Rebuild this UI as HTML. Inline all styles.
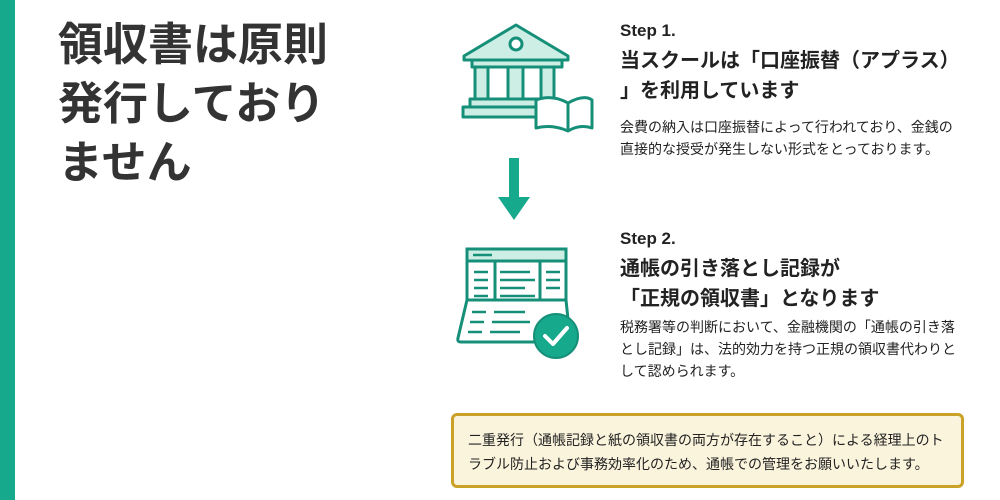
<!DOCTYPE html>
<html><head><meta charset="utf-8"><style>
body{margin:0;width:1000px;height:500px;background:#fff;position:relative;overflow:hidden;font-family:"Liberation Sans","Noto Sans CJK JP",sans-serif;color:#222}
.bar{position:absolute;left:0;top:0;width:15px;height:500px;background:#17a98c}
.t{position:absolute;left:58px;top:15px;font-size:45px;font-weight:bold;line-height:59px;color:#333}
.s{position:absolute;left:620px;font-weight:bold;font-size:20px;line-height:30px}
.s .h{font-size:17px}
.b{position:absolute;left:620px;font-size:14px;line-height:22px}
.box{position:absolute;left:451px;top:413px;width:513px;height:75px;background:#fbf4dd;border:3px solid #c9a227;border-radius:6px;box-sizing:border-box;font-size:14px;line-height:24px;padding:12px 0 0 14px}
</style></head><body>
<div class="bar"></div>
<div class="t">領収書は原則<br>発行しており<br>ません</div>
<svg style="position:absolute;left:440px;top:0" width="180" height="370" viewBox="440 0 180 370">
<g stroke="#168f79" stroke-width="3" fill="#cdeee5" stroke-linejoin="round">
<polygon points="464,56 516,25 568,56 568,60 464,60"/>
<circle cx="516" cy="44" r="6" fill="#fff"/>
<rect x="472" y="60" width="90" height="7"/>
<rect x="475" y="67" width="13" height="32"/><rect x="508" y="67" width="15" height="32"/><rect x="541" y="67" width="13" height="32"/>
<rect x="470" y="99" width="72" height="8"/><rect x="463" y="107" width="80" height="10"/>
<path d="M536 112 L536 100 Q552 94 568 103 Q584 94 592 100 L592 128 Q580 124 568 131 Q552 124 536 128 Z" fill="#fff"/>
<line x1="568" y1="103" x2="568" y2="131"/>
</g>
<rect x="509" y="158" width="10" height="40" fill="#17a98c"/>
<polygon points="498,197 530,197 514,220" fill="#17a98c"/>
<g stroke="#168f79" stroke-width="3" fill="#fff">
<path d="M467 252 Q467 249 470 249 L563 249 Q566 249 566 252 L566 300 L570 338 Q570 342 566 342 L461 342 Q457 342 458 338 L467 300 Z"/>
<rect x="467" y="249" width="99" height="12" fill="#cdeee5"/>
<line x1="495" y1="261" x2="495" y2="300"/><line x1="540" y1="261" x2="540" y2="300"/>
<line x1="467" y1="300" x2="566" y2="300"/>
<g stroke-width="2.5"><line x1="473" y1="255" x2="492" y2="255"/>
<line x1="474" y1="272" x2="488" y2="272"/><line x1="500" y1="272" x2="530" y2="272"/><line x1="546" y1="272" x2="560" y2="272"/>
<line x1="474" y1="280" x2="488" y2="280"/><line x1="500" y1="280" x2="535" y2="280"/><line x1="546" y1="280" x2="560" y2="280"/>
<line x1="474" y1="288" x2="488" y2="288"/><line x1="500" y1="288" x2="525" y2="288"/><line x1="546" y1="288" x2="560" y2="288"/>
<line x1="474" y1="296" x2="488" y2="296"/><line x1="500" y1="296" x2="535" y2="296"/>
<line x1="472" y1="312" x2="486" y2="312"/><line x1="494" y1="312" x2="525" y2="312"/>
<line x1="470" y1="322" x2="484" y2="322"/><line x1="492" y1="322" x2="530" y2="322"/>
<line x1="468" y1="332" x2="482" y2="332"/><line x1="490" y1="332" x2="520" y2="332"/></g>
</g>
<circle cx="556" cy="336" r="22" fill="#17a98c" stroke="#168f79" stroke-width="2"/>
<polyline points="545,336 553,344 567,328" fill="none" stroke="#fff" stroke-width="4" stroke-linecap="round" stroke-linejoin="round"/>
</svg>
<div class="s" style="top:15px"><span class="h">Step 1.</span><br>当スクールは「口座振替（アプラス）<br>」を利用しています</div>
<div class="b" style="top:116px">会費の納入は口座振替によって行われており、金銭の<br>直接的な授受が発生しない形式をとっております。</div>
<div class="s" style="top:223px"><span class="h">Step 2.</span><br>通帳の引き落とし記録が<br>「正規の領収書」となります</div>
<div class="b" style="top:316px">税務署等の判断において、金融機関の「通帳の引き落<br>とし記録」は、法的効力を持つ正規の領収書代わりと<br>して認められます。</div>
<div class="box">二重発行（通帳記録と紙の領収書の両方が存在すること）による経理上のト<br>ラブル防止および事務効率化のため、通帳での管理をお願いいたします。</div>
</body></html>
